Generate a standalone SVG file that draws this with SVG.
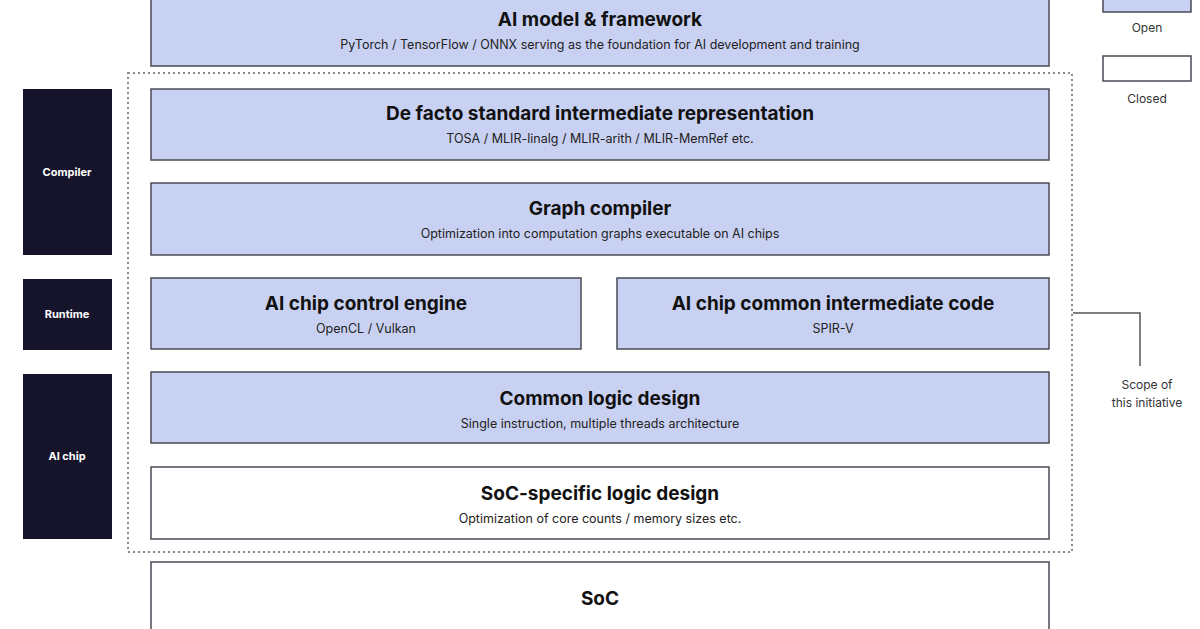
<svg xmlns="http://www.w3.org/2000/svg" width="1200" height="629" viewBox="0 0 1200 629">
<style>
.open{fill:#c9d1f3;stroke:#4a4a55;stroke-width:1.5}
.closed{fill:#fff;stroke:#4a4a55;stroke-width:1.5}
.side{fill:#15142a}
.t{font-family:"Inter","Liberation Sans",sans-serif;font-weight:700;font-size:19px;fill:#111;text-anchor:middle}
.s{font-family:"Inter","Liberation Sans",sans-serif;font-size:12.5px;fill:#222;text-anchor:middle}
.w{font-family:"Inter","Liberation Sans",sans-serif;font-weight:700;font-size:11px;fill:#fff;text-anchor:middle}
.l{font-family:"Inter","Liberation Sans",sans-serif;font-size:12px;fill:#333;text-anchor:middle}
</style>
<rect width="1200" height="629" fill="#fff"/>
<g id="connectors">
<rect x="128" y="73" width="944" height="479" fill="none" stroke="#888" stroke-width="2" stroke-dasharray="2,3"/>
<polyline points="1073,313 1140,313 1140,366" fill="none" stroke="#555" stroke-width="1.5"/>
</g>
<g id="legend">
<rect class="open" x="1103" y="-10" width="88" height="22"/>
<text class="l" x="1147" y="32">Open</text>
<rect class="closed" x="1103" y="56" width="88" height="25"/>
<text class="l" x="1147" y="103">Closed</text>
<text class="l" x="1147" y="389">Scope of</text>
<text class="l" x="1147" y="407">this initiative</text>
</g>
<g id="side-compiler"><rect class="side" x="23" y="89" width="89" height="166"/><text class="w" x="67" y="176">Compiler</text></g>
<g id="side-runtime"><rect class="side" x="23" y="279" width="89" height="71"/><text class="w" x="67" y="318">Runtime</text></g>
<g id="side-aichip"><rect class="side" x="23" y="374" width="89" height="165"/><text class="w" x="67" y="460">AI chip</text></g>
<g id="framework"><rect class="open" x="151" y="-10" width="898" height="76"/><text class="t" x="600" y="26">AI model &amp; framework</text><text class="s" x="600" y="49">PyTorch / TensorFlow / ONNX serving as the foundation for AI development and training</text></g>
<g id="ir"><rect class="open" x="151" y="89" width="898" height="71"/><text class="t" x="600" y="120">De facto standard intermediate representation</text><text class="s" x="600" y="143">TOSA / MLIR-linalg / MLIR-arith / MLIR-MemRef etc.</text></g>
<g id="graph"><rect class="open" x="151" y="183" width="898" height="72"/><text class="t" x="600" y="215">Graph compiler</text><text class="s" x="600" y="238">Optimization into computation graphs executable on AI chips</text></g>
<g id="engine"><rect class="open" x="151" y="278" width="430" height="71"/><text class="t" x="366" y="310">AI chip control engine</text><text class="s" x="366" y="333">OpenCL / Vulkan</text></g>
<g id="code"><rect class="open" x="617" y="278" width="432" height="71"/><text class="t" x="833" y="310">AI chip common intermediate code</text><text class="s" x="833" y="333">SPIR-V</text></g>
<g id="common"><rect class="open" x="151" y="372" width="898" height="71"/><text class="t" x="600" y="405">Common logic design</text><text class="s" x="600" y="428">Single instruction, multiple threads architecture</text></g>
<g id="socspec"><rect class="closed" x="151" y="467" width="898" height="72"/><text class="t" x="600" y="500">SoC-specific logic design</text><text class="s" x="600" y="523">Optimization of core counts / memory sizes etc.</text></g>
<g id="soc"><rect class="closed" x="151" y="562" width="898" height="80"/><text class="t" x="600" y="605">SoC</text></g>
</svg>
